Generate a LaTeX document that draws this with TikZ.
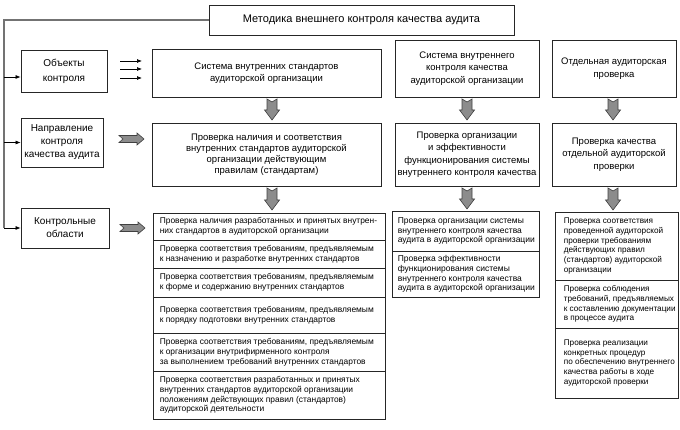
\documentclass[tikz,border=0pt]{standalone}
\usepackage{fontspec}
\setmainfont{Liberation Sans}
\usetikzlibrary{arrows.meta}
\newcommand\fsz[2]{\fontsize{#1}{#2}\selectfont}
\newcommand\gdarr[3]{\draw[garrow] ({#1-5},#2) -- (#1,{#2+3}) -- ({#1+5},#2) -- ({#1+5},{#3-10}) -- ({#1+7.5},{#3-10}) -- (#1,#3) -- ({#1-7.5},{#3-10}) -- ({#1-5},{#3-10}) -- cycle;}
\newcommand\grarr[3]{\draw[garrow] (#1,{#3-3.5}) -- ({#2-7},{#3-3.5}) -- ({#2-7},{#3-6}) -- (#2,#3) -- ({#2-7},{#3+6}) -- ({#2-7},{#3+3.5}) -- (#1,{#3+3.5}) -- ({#1+4},#3) -- cycle;}
\tikzset{
  bx/.style={draw=black!85, line width=0.8pt, align=center, inner sep=0pt},
  titlebox/.style={bx, font=\fsz{11}{13}},
  leftbox/.style={bx, font=\fsz{10}{13}},
  upbox/.style={bx, font=\fsz{9.5}{12.5}},
  cell/.style={draw=black!85, line width=0.8pt, inner sep=0pt},
  ctext/.style={anchor=west, align=left, inner sep=0pt},
  t1/.style={ctext, font=\fsz{8.4}{9.8}},
  t2/.style={ctext, font=\fsz{8.5}{9.8}},
  t3/.style={ctext, font=\fsz{8.2}{9.7}},
  garrow/.style={draw=black!75, line width=0.6pt, fill=black!45},
  conn/.style={draw=black!55, line width=1.1pt},
  tip/.style={draw=black, line width=0.7pt, -{Latex[length=5pt,width=4pt]}},
}
\begin{document}
\begin{tikzpicture}[x=1pt,y=-1pt]
\useasboundingbox (0,0) rectangle (680,430);
% title
\node[titlebox, minimum width=305pt, minimum height=30pt] (title) at (361.5,20) {Методика внешнего контроля качества аудита};
% left boxes
\node[leftbox, font=\fsz{10}{15}, minimum width=86pt, minimum height=42pt] (obj) at (64,71) {Объекты\\контроля};
\node[leftbox, minimum width=82pt, minimum height=49pt] (dir) at (62,142.5) {Направление\\контроля\\качества аудита};
\node[leftbox, minimum width=88pt, minimum height=40pt] (area) at (65,228) {Контрольные\\области};
% row 1
\node[upbox, font=\fsz{9.5}{12}, minimum width=229pt, minimum height=48pt] (sys1) at (266.5,73) {Система внутренних стандартов\\аудиторской организации};
\node[upbox, minimum width=144pt, minimum height=57pt] (sys2) at (467,68.5) {Система внутреннего\\контроля качества\\аудиторской организации};
\node[upbox, minimum width=124pt, minimum height=57pt] (sys3) at (614,68.5) {Отдельная аудиторская\\проверка};
% row 2
\node[upbox, font=\fsz{9.5}{11}, minimum width=229pt, minimum height=63pt] (chk1) at (266.5,154.5) {Проверка наличия и соответствия\\внутренних стандартов аудиторской\\организации действующим\\правилам (стандартам)};
\node[upbox, minimum width=144pt, minimum height=63pt] (chk2) at (467,154.5) {Проверка организации\\и эффективности\\функционирования системы\\внутреннего контроля качества};
\node[upbox, minimum width=124pt, minimum height=63pt] (chk3) at (614,154.5) {Проверка качества\\отдельной аудиторской\\проверки};
% list 1
\tikzset{c1/.style={cell, minimum width=232pt}}
\node[c1, minimum height=27pt] (a1) at (269,226.5) {};
\node[c1, minimum height=28pt] (a2) at (269,254) {};
\node[c1, minimum height=29pt] (a3) at (269,282.5) {};
\node[c1, minimum height=36pt] (a4) at (269,315) {};
\node[c1, minimum height=38pt] (a5) at (269,352) {};
\node[c1, minimum height=48pt] (a6) at (269,395) {};
\node[t1] (ta1) at ([xshift=7pt]a1.west) {Проверка наличия разработанных и принятых внутрен-\\них стандартов в аудиторской организации};
\node[t1] (ta2) at ([xshift=7pt]a2.west) {Проверка соответствия требованиям, предъявляемым\\к назначению и разработке внутренних стандартов};
\node[t1] (ta3) at ([xshift=7pt]a3.west) {Проверка соответствия требованиям, предъявляемым\\к форме и содержанию внутренних стандартов};
\node[t1] (ta4) at ([xshift=7pt]a4.west) {Проверка соответствия требованиям, предъявляемым\\к порядку подготовки внутренних стандартов};
\node[t1] (ta5) at ([xshift=7pt]a5.west) {Проверка соответствия требованиям, предъявляемым\\к организации внутрифирменного контроля\\за выполнением требований внутренних стандартов};
\node[t1] (ta6) at ([xshift=7pt]a6.west) {Проверка соответствия разработанных и принятых\\внутренних стандартов аудиторской организации\\положениям действующих правил (стандартов)\\аудиторской деятельности};
% list 2
\tikzset{c2/.style={cell, minimum width=147pt}}
\node[c2, minimum height=40pt] (b1) at (465.5,231) {};
\node[c2, minimum height=46pt] (b2) at (465.5,274) {};
\node[t2] (tb1) at ([xshift=6pt]b1.west) {Проверка организации системы\\внутреннего контроля качества\\аудита в аудиторской организации};
\node[t2] (tb2) at ([xshift=6pt]b2.west) {Проверка эффективности\\функционирования системы\\внутреннего контроля качества\\аудита в аудиторской организации};
% list 3
\tikzset{c3/.style={cell, minimum width=123pt}}
\node[c3, minimum height=68pt] (d1) at (616.5,246) {};
\node[c3, minimum height=48pt] (d2) at (616.5,304) {};
\node[c3, minimum height=70pt] (d3) at (616.5,363) {};
\node[t3] (td1) at ([xshift=9pt]d1.west) {Проверка соответствия\\проведенной аудиторской\\проверки требованиям\\действующих правил\\(стандартов) аудиторской\\организации};
\node[t3] (td2) at ([xshift=9pt]d2.west) {Проверка соблюдения\\требований, предъявляемых\\к составлению документации\\в процессе аудита};
\node[t3] (td3) at ([xshift=9pt]d3.west) {Проверка реализации\\конкретных процедур\\по обеспечению внутреннего\\качества работы в ходе\\аудиторской проверки};
% left connector
\coordinate (j0) at (4,20);
\coordinate (j1) at (4,77);
\coordinate (j2) at (4,142.5);
\coordinate (j3) at (4,228);
\draw[conn] (title.west) -- (j0) -- (j3);
\draw[tip] (j1) -- (obj.west |- j1);
\draw[tip] (j2) -- (dir.west |- j2);
\draw[tip] (j3) -- (area.west |- j3);
% three small arrows
\foreach \yy/\nm in {61/p1,69/p2,78/p3} {
  \coordinate (\nm s) at (120,\yy);
  \coordinate (\nm e) at (142,\yy);
  \draw[tip] (\nm s) -- (\nm e);
}
% gray down arrows
\gdarr{272}{99}{120}
\gdarr{467}{99}{120}
\gdarr{613}{99}{120}
\gdarr{272}{188}{210}
\gdarr{467}{188}{209}
\gdarr{613}{188}{210}
% gray right arrows
\grarr{119}{144}{139}
\grarr{120}{145}{228}
\end{tikzpicture}
\end{document}
